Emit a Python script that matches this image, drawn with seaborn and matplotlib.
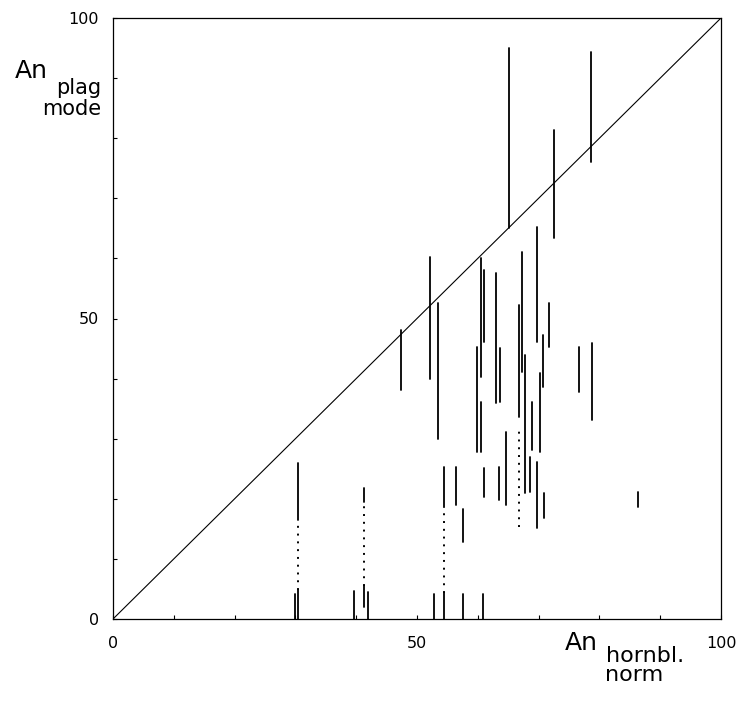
import numpy as np
import pandas as pd
import matplotlib
matplotlib.use("Agg")
import matplotlib.pyplot as plt
import seaborn as sns

# Ranges of An content: hornblende (x) against plagioclase mode (y range)
solid_x = [29.9, 30.5, 30.5, 39.6, 41.3, 41.3, 42.0, 47.3, 52.1, 53.4,
           52.8, 54.5, 54.5, 56.4, 57.5, 57.6, 59.8, 60.5, 61.0, 60.5,
           61.1, 60.9, 63.0, 63.6, 63.5, 64.6, 65.1, 66.7, 67.3, 67.8,
           68.9, 68.6, 69.7, 69.8, 70.3, 70.7, 70.9, 71.7, 72.6, 76.6,
           78.7, 78.8, 86.3]
solid_lo = [0.0, 16.5, 0.0, 0.0, 19.5, 2.0, 0.0, 38.1, 39.9, 30.0,
            0.0, 18.6, 0.0, 19.0, 12.8, 0.0, 27.8, 40.3, 46.1, 27.8,
            20.3, 0.0, 35.9, 36.1, 19.8, 19.0, 65.1, 33.6, 41.1, 21.0,
            28.1, 21.1, 46.1, 15.1, 27.8, 38.6, 16.8, 45.3, 63.4, 37.8,
            76.0, 33.1, 18.6]
solid_hi = [4.2, 26.0, 4.8, 4.7, 21.8, 5.5, 4.5, 48.1, 60.2, 52.6,
            4.2, 25.3, 4.3, 25.3, 18.3, 4.2, 45.3, 60.1, 58.1, 36.1,
            25.1, 4.2, 57.6, 45.1, 25.3, 31.1, 95.0, 52.2, 61.1, 43.9,
            36.1, 27.0, 65.2, 26.1, 40.9, 47.3, 21.0, 52.6, 81.4, 45.3,
            94.3, 45.9, 21.1]

dotted_x = [30.5, 41.3, 54.5, 66.7]
dotted_lo = [4.8, 5.5, 4.3, 15.3]
dotted_hi = [16.5, 19.5, 18.6, 31.8]

diag = [0, 100]
tick_vals = [0, 50, 100]
tick_labels = ["0", "50", "100"]


def segments(xs, los, his):
    rows = []
    for i, (x, lo, hi) in enumerate(zip(xs, los, his)):
        rows.append({"seg": i, "x": x, "y": lo})
        rows.append({"seg": i, "x": x, "y": hi})
    return pd.DataFrame(rows)


sns.set_theme(style="white")
plt.rcParams["font.family"] = ["DejaVu Sans"]
plt.rcParams["text.color"] = "black"
plt.rcParams["xtick.labelcolor"] = "black"
plt.rcParams["ytick.labelcolor"] = "black"

fig = plt.figure(figsize=(7.38, 7.04), dpi=100)
ax = fig.add_axes([113 / 738, 1 - 619 / 704, 608 / 738, 601 / 704])

sns.lineplot(data=pd.DataFrame({"x": diag, "y": diag}), x="x", y="y",
             color="black", linewidth=0.8, ax=ax)
sns.lineplot(data=segments(solid_x, solid_lo, solid_hi), x="x", y="y",
             units="seg", estimator=None, sort=False, color="black",
             linewidth=1.3, ax=ax)
sns.lineplot(data=segments(dotted_x, dotted_lo, dotted_hi), x="x", y="y",
             units="seg", estimator=None, sort=False, color="black",
             linewidth=1.4, linestyle=(0, (1, 3)), ax=ax)

ax.set_xlim(0, 100)
ax.set_ylim(0, 100)
ax.set_xlabel("")
ax.set_ylabel("")
ax.set_xticks(np.arange(0, 101, 10), minor=True)
ax.set_yticks(np.arange(0, 101, 10), minor=True)
ax.set_xticks(tick_vals)
ax.set_yticks(tick_vals)
ax.set_xticklabels(tick_labels)
ax.set_yticklabels(tick_labels)
ax.tick_params(which="both", direction="in", length=3, width=0.8,
               color="black", bottom=True, left=True, top=False, right=False)
ax.tick_params(axis="x", which="major", labelsize=11.5, labelcolor="black", pad=12)
ax.tick_params(axis="y", which="major", labelsize=11.5, labelcolor="black", pad=10)
for s in ax.spines.values():
    s.set_color("black")
    s.set_linewidth(0.9)

# Axis titles with stacked subscripts
fig.text(15 / 738, 1 - 78 / 704, "An", fontsize=18, va="baseline", ha="left", color="black")
fig.text(101 / 738, 1 - 94 / 704, "plag", fontsize=15, va="baseline", ha="right", color="black")
fig.text(101 / 738, 1 - 115 / 704, "mode", fontsize=15, va="baseline", ha="right", color="black")

fig.text(565 / 738, 1 - 650 / 704, "An", fontsize=18, va="baseline", ha="left", color="black")
fig.text(606 / 738, 1 - 662 / 704, "hornbl.", fontsize=16, va="baseline", ha="left", color="black")
fig.text(605 / 738, 1 - 681 / 704, "norm", fontsize=16, va="baseline", ha="left", color="black")

fig.savefig("out.png", dpi=100, facecolor="white")
